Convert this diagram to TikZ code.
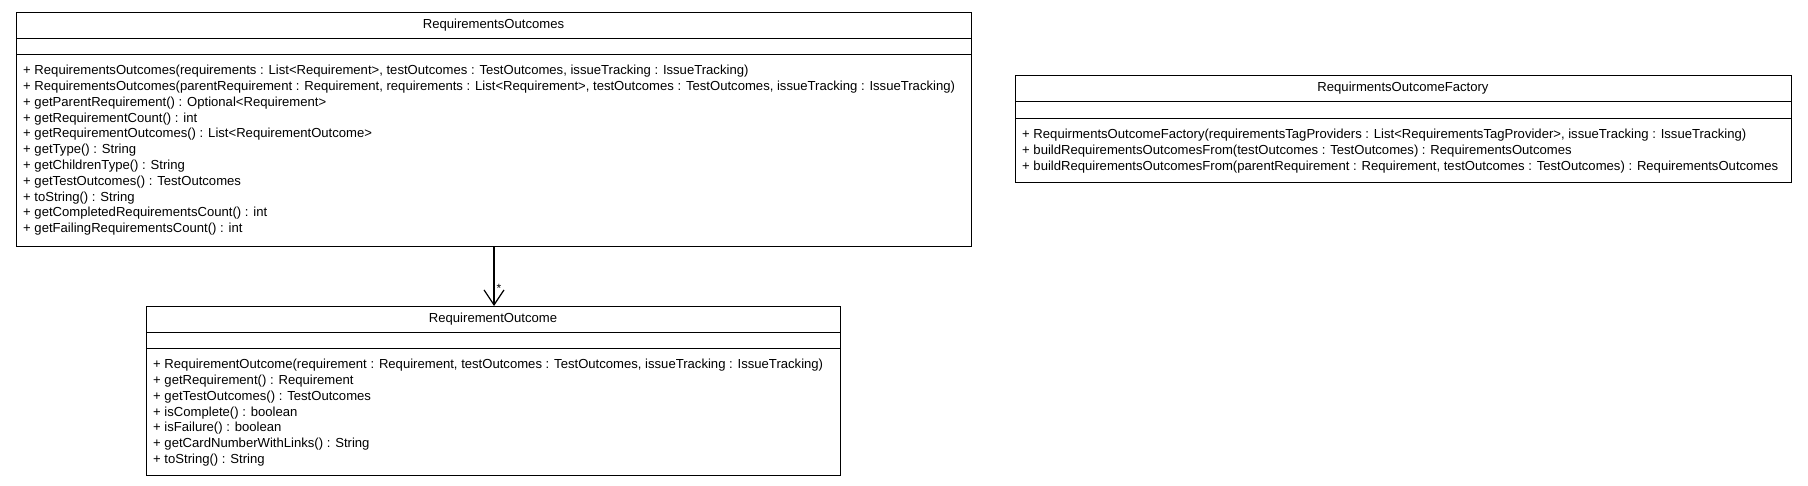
\documentclass[tikz,border=0pt]{standalone}
\usepackage{fontspec}
\setmainfont{Liberation Sans}
\usetikzlibrary{arrows.meta}
\tikzset{
  umlbox/.style={draw,line width=1pt},
  op/.style={anchor=north west,inner sep=0pt,align=left,font=\fontsize{13.1}{15.8}\selectfont},
  ttl/.style={inner sep=0pt,font=\fontsize{13.1}{14}\selectfont}
}
\begin{document}
\begin{tikzpicture}[x=1pt,y=-1pt]
\path[use as bounding box,fill=white] (0,0) rectangle (1808,485);
% RequirementsOutcomes
\draw[umlbox] (16,12) rectangle (971,246);
\draw[umlbox] (16,38) -- (971,38) (16,54) -- (971,54);
\node[ttl] (outT) at (493.5,25) {RequirementsOutcomes};
\node[op] (outOps) at (23,65) {+ RequirementsOutcomes(requirements : List<Requirement>, testOutcomes : TestOutcomes, issueTracking : IssueTracking)\\
+ RequirementsOutcomes(parentRequirement : Requirement, requirements : List<Requirement>, testOutcomes : TestOutcomes, issueTracking : IssueTracking)\\
+ getParentRequirement() : Optional<Requirement>\\
+ getRequirementCount() : int\\
+ getRequirementOutcomes() : List<RequirementOutcome>\\
+ getType() : String\\
+ getChildrenType() : String\\
+ getTestOutcomes() : TestOutcomes\\
+ toString() : String\\
+ getCompletedRequirementsCount() : int\\
+ getFailingRequirementsCount() : int};
\coordinate (outS) at (494,246);
% RequirementOutcome
\draw[umlbox] (146,306) rectangle (840,475);
\draw[umlbox] (146,332) -- (840,332) (146,348) -- (840,348);
\node[ttl] (rqT) at (493,319) {RequirementOutcome};
\node[op] (rqOps) at (153,359) {+ RequirementOutcome(requirement : Requirement, testOutcomes : TestOutcomes, issueTracking : IssueTracking)\\
+ getRequirement() : Requirement\\
+ getTestOutcomes() : TestOutcomes\\
+ isComplete() : boolean\\
+ isFailure() : boolean\\
+ getCardNumberWithLinks() : String\\
+ toString() : String};
\coordinate (rqN) at (494,306);
% RequirmentsOutcomeFactory
\draw[umlbox] (1015,75) rectangle (1791,182);
\draw[umlbox] (1015,101) -- (1791,101) (1015,118) -- (1791,118);
\node[ttl] (facT) at (1403,88) {RequirmentsOutcomeFactory};
\node[op] (facOps) at (1022,129) {+ RequirmentsOutcomeFactory(requirementsTagProviders : List<RequirementsTagProvider>, issueTracking : IssueTracking)\\
+ buildRequirementsOutcomesFrom(testOutcomes : TestOutcomes) : RequirementsOutcomes\\
+ buildRequirementsOutcomesFrom(parentRequirement : Requirement, testOutcomes : TestOutcomes) : RequirementsOutcomes};
% association
\draw[line width=1.2pt,-{Straight Barb[length=15pt,width=20pt,line width=1.2pt]}] (outS) -- (rqN)
  node[pos=0.7,right,inner sep=2pt,font=\fontsize{12}{12}\selectfont] {*};
\end{tikzpicture}
\end{document}
